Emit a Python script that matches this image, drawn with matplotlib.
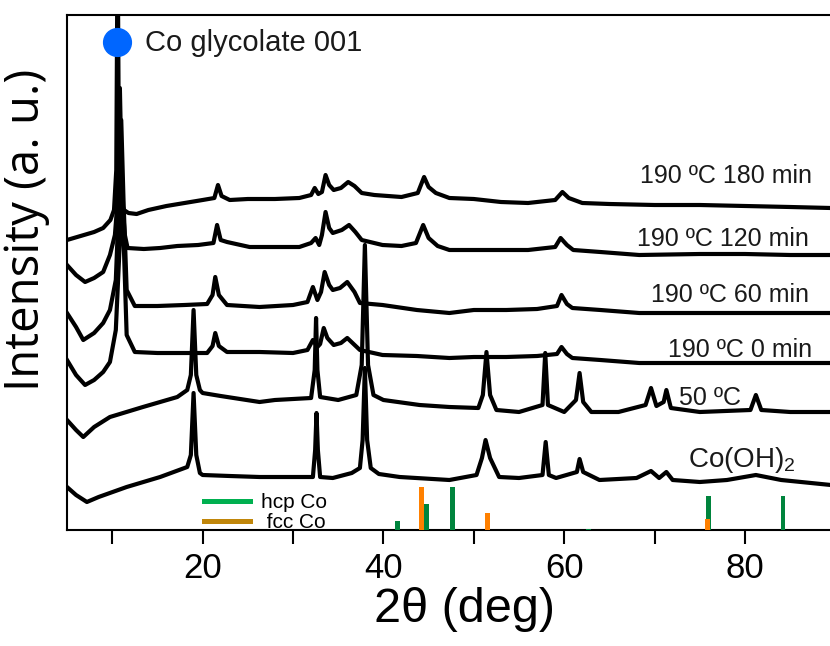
import matplotlib
matplotlib.use("Agg")
from matplotlib import pyplot as plt
from matplotlib.lines import Line2D

plt.rcParams['font.family'] = ['Liberation Sans', 'DejaVu Sans']
plt.rcParams['mathtext.default'] = 'regular'

# XRD patterns, 2theta (deg) and stacked intensity (a.u., offsets included)
t_180 = [5.0, 6.5, 8.0, 9.0, 9.8, 10.2, 10.45, 10.6, 10.75, 10.95, 11.3, 11.8, 12.7, 14, 16, 18, 20, 21.3, 21.7, 22.1,
         23, 25, 28, 30.7, 32.0, 32.4, 32.8, 33.2, 33.6, 34.0, 34.5, 35.3, 36.1, 36.8, 37.6, 39, 42, 43.8, 44.5, 45.0,
         45.8, 47.3, 50, 53, 56, 59.0, 59.8, 60.5, 62, 65, 70, 75, 80, 85, 89.5]
i_180 = [290, 294, 298, 302, 310, 320, 360, 600, 360, 330, 320, 317, 316, 320, 324, 327, 330, 332, 345, 334,
         330, 331, 331, 332, 335, 342, 336, 338, 355, 345, 340, 342, 348, 344, 337, 335, 333, 337, 353, 343,
         337, 332, 331, 328, 327, 330, 338, 332, 327, 326, 325, 325, 324, 323, 322]

t_120 = [5.0, 6.0, 7.0, 8.0, 9.0, 9.75, 10.3, 10.6, 10.85, 11.1, 11.4, 11.7, 13.5, 15.3, 17.2, 19.5, 21.2, 21.6, 22.0,
         22.7, 25.2, 28, 30.7, 32.0, 32.5, 32.9, 33.2, 33.6, 34.0, 34.4, 35.4, 36.2, 36.9, 37.6, 39.9, 42, 43.6, 44.4,
         45.0, 46.0, 47.3, 50, 53.6, 56, 59.0, 59.6, 60.3, 61, 64, 68.3, 75, 80, 85, 89.5]
i_120 = [265, 255, 248, 252, 258, 275, 295, 330, 442, 330, 295, 282, 281, 282, 284, 285, 287, 305, 290,
         288, 283, 283, 283, 287, 292, 285, 295, 318, 302, 297, 300, 305, 298, 290, 285, 284, 287, 305,
         292, 284, 280, 280, 280, 280, 283, 292, 285, 280, 278, 275, 276, 276, 275, 275]

t_60 = [5.0, 6.0, 6.8, 8.0, 9.0, 9.75, 10.4, 10.75, 11.0, 11.25, 11.6, 12.5, 15, 18, 20.5, 21.1, 21.4, 21.8, 22.7,
        26.3, 30, 31.6, 32.2, 32.7, 33.1, 33.5, 34.0, 34.4, 35.2, 36.0, 36.8, 37.4, 39.9, 43.7, 47.3, 50, 53.6, 57,
        59.2, 59.7, 60.3, 60.9, 64, 68.3, 75, 80, 89.5]
i_60 = [217, 203, 190, 197, 207, 220, 250, 330, 410, 330, 240, 224, 224, 225, 226, 235, 253, 235, 225,
        223, 225, 228, 243, 230, 238, 258, 245, 240, 242, 248, 238, 227, 225, 220, 217, 220, 220, 221,
        224, 235, 226, 222, 220, 217, 217, 217, 217]

t_0 = [5.0, 6.0, 7.0, 8.0, 9.0, 9.75, 10.4, 10.8, 11.05, 11.3, 11.6, 12.5, 15, 18, 20.5, 21.1, 21.4, 21.8, 22.7,
       26.3, 30, 31.6, 32.2, 32.7, 33.0, 33.4, 33.8, 34.5, 35.3, 36.0, 36.7, 37.4, 39.9, 43.7, 47.3, 50, 53.6, 57,
       59.2, 59.7, 60.3, 60.9, 64, 68.3, 75, 80, 89.5]
i_0 = [170, 155, 145, 150, 158, 168, 200, 280, 340, 280, 195, 178, 177, 177, 177, 184, 197, 184, 178,
       178, 177, 180, 190, 183, 186, 202, 192, 185, 187, 192, 186, 180, 175, 174, 172, 173, 173, 174,
       176, 183, 176, 172, 170, 167, 167, 167, 167]

t_50 = [5.0, 6.0, 6.8, 8.0, 9.75, 13.4, 17.2, 18.3, 18.7, 19.0, 19.3, 19.7, 20.0, 22, 26.3, 28, 30, 32.0, 32.4,
        32.55, 32.7, 33.0, 35, 37.0, 37.6, 37.95, 38.3, 38.9, 40, 44, 47.3, 50.5, 51.0, 51.4, 51.8, 52.5, 55, 57.6,
        57.9, 58.2, 60, 61.3, 61.7, 62.1, 63, 66, 69.0, 69.6, 70.2, 71.0, 71.3, 71.8, 75, 80.6, 81.2, 81.8, 85, 89.5]
i_50 = [110, 100, 93, 103, 113, 123, 133, 140, 155, 220, 155, 140, 137, 134, 128, 130, 131, 132, 160,
        212, 160, 133, 130, 135, 165, 285, 165, 135, 130, 125, 123, 122, 135, 178, 135, 120, 118, 125,
        177, 125, 118, 130, 157, 128, 118, 118, 125, 142, 124, 128, 140, 122, 118, 120, 135, 120, 118, 118]

t_oh = [5.0, 6.0, 7.2, 8.5, 11.6, 15.3, 18.3, 18.7, 19.0, 19.3, 19.7, 20.0, 23, 26.3, 30, 32.2, 32.45, 32.6, 32.75,
        33.0, 34.4, 36.5, 37.4, 37.7, 37.95, 38.2, 38.6, 39.5, 41.8, 47.3, 50.3, 50.9, 51.3, 51.8, 52.8, 55, 57.6,
        57.95, 58.3, 59.1, 61.4, 61.7, 62.1, 63.9, 68, 69.6, 70.5, 71.3, 72, 75.0, 78, 81.2, 84, 89.5]
i_oh = [43, 35, 28, 33, 43, 53, 63, 75, 137, 75, 57, 55, 54, 53, 53, 53, 80, 117, 80,
        53, 52, 57, 62, 90, 162, 90, 62, 56, 53, 50, 55, 72, 90, 72, 53, 52, 55,
        88, 55, 52, 58, 71, 58, 50, 52, 59, 52, 58, 50, 48, 50, 55, 50, 45]

# reference reflections
hcp_pos = [41.6, 44.8, 47.6, 62.7, 75.95, 84.2]
hcp_int = [9, 26, 43, 1, 34, 34]
fcc_pos = [44.25, 51.5, 75.8]
fcc_int = [43, 17, 11]

patterns = [
    (t_180, i_180, '190 ºC 180 min', 87.4, 347),
    (t_120, i_120, '190 ºC 120 min', 87.1, 284),
    (t_60, i_60, '190 ºC 60 min', 87.1, 228),
    (t_0, i_0, '190 ºC 0 min', 87.4, 173),
    (t_50, i_50, '50 ºC', 79.6, 125),
]

fig = plt.figure(figsize=(8.3, 6.46), dpi=100)
ax = fig.add_axes([67 / 830, 1 - 530 / 646, 763 / 830, 515 / 646])

for tt, ii, lab, lx, ly in patterns:
    ax.plot(tt, ii, color='k', lw=3.0, solid_joinstyle='round')
    ax.text(lx, ly, lab, ha='right', va='baseline', fontsize=18, color='#1a1a1a')
ax.plot(t_oh, i_oh, color='k', lw=3.0, solid_joinstyle='round')
ax.text(73.7, 63, 'Co(OH)$_2$', ha='left', va='baseline', fontsize=20, color='#1a1a1a')

ax.bar(hcp_pos, hcp_int, width=0.55, color='#00843d', zorder=3)
ax.bar(fcc_pos, fcc_int, width=0.55, color='#ff8000', zorder=4)

# Co glycolate 001 marker
ax.plot([10.5], [488], 'o', ms=20, color='#0066ff', clip_on=False, zorder=5)
ax.text(13.6, 487, 'Co glycolate 001', ha='left', va='center', fontsize=21, color='#1a1a1a')

handles = [Line2D([], [], color='#00b050', lw=3.6), Line2D([], [], color='#c0860a', lw=3.6)]
ax.legend(handles, ['hcp Co', ' fcc Co'], loc='upper left', bbox_to_anchor=(0.1796, 0.072),
          frameon=False, fontsize=15, handlelength=2.2, handletextpad=0.55, labelspacing=0.05,
          borderpad=0, borderaxespad=0)

ax.set_xlim(5, 89.4)
ax.set_ylim(0, 515)
ax.set_yticks([])
ax.set_xticks([20, 40, 60, 80])
ax.set_xticks([10, 30, 50, 70], minor=True)
ax.tick_params(axis='x', which='both', direction='out', length=10, width=1.5, pad=6, labelsize=25)
for s in ['left', 'bottom', 'top']:
    ax.spines[s].set_linewidth(1.5)
ax.spines['right'].set_visible(False)

ax.set_xlabel('2θ (deg)', fontsize=35)
ax.xaxis.set_label_coords((465 - 67) / 763, -0.11)
ax.set_ylabel('Intensity (a. u.)', fontsize=34, family=['Open Sans', 'DejaVu Sans'])
ax.yaxis.set_label_coords(-0.022, 0.583)

fig.savefig('out.png', dpi=100)
